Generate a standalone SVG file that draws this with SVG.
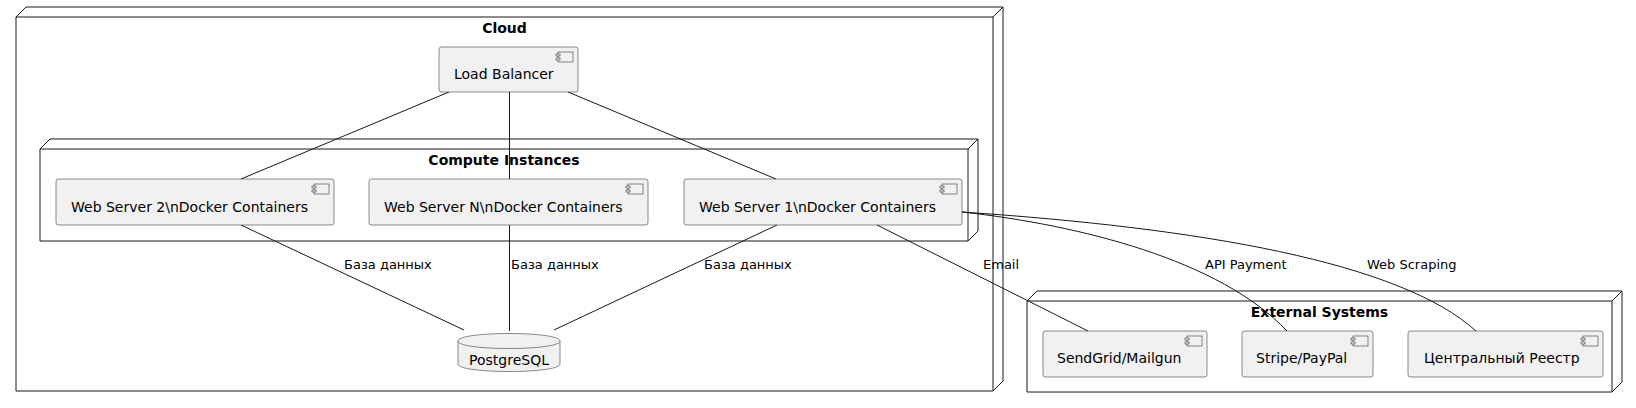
<svg xmlns="http://www.w3.org/2000/svg" width="1636" height="408" viewBox="0 0 1636 408">
<style>
.node{fill:none;stroke:#181818;stroke-width:1}
.title{font-family:"DejaVu Sans",sans-serif;font-size:14px;font-weight:bold;fill:#000;text-anchor:middle}
.comp{fill:#F1F1F1;stroke:#181818;stroke-width:0.5}
.icon{fill:#F1F1F1;stroke:#181818;stroke-width:0.5}
.lbl{font-family:"DejaVu Sans",sans-serif;font-size:14px;fill:#000}
.edge{fill:none;stroke:#181818;stroke-width:1}
.elbl{font-family:"DejaVu Sans",sans-serif;font-size:13px;fill:#000}
</style>
<rect width="1636" height="408" fill="#FFFFFF"/>
<g id="cloud">
<path class="node" d="M16,17 L26,7 L1003,7 L1003,381 L993,391 L16,391 Z M993,17 L1003,7 M16,17 L993,17 L993,391"/>
<text class="title" x="504.5" y="33">Cloud</text>
</g>
<g id="compute-instances">
<path class="node" d="M40,149 L50,139 L978,139 L978,231 L968,241 L40,241 Z M968,149 L978,139 M40,149 L968,149 L968,241"/>
<text class="title" x="504" y="165">Compute Instances</text>
</g>
<g id="external-systems">
<path class="node" d="M1027,301 L1037,291 L1622,291 L1622,382 L1612,392 L1027,392 Z M1612,301 L1622,291 M1027,301 L1612,301 L1612,392"/>
<text class="title" x="1319.5" y="317">External Systems</text>
</g>
<g id="connectors">
<line class="edge" x1="449" y1="92" x2="241" y2="179"/>
<line class="edge" x1="509.5" y1="92" x2="509.5" y2="179"/>
<line class="edge" x1="568" y1="92" x2="776" y2="179"/>
<line class="edge" x1="241" y1="225" x2="464" y2="330"/>
<line class="edge" x1="509.5" y1="225" x2="509.5" y2="331"/>
<line class="edge" x1="777" y1="225" x2="554" y2="330"/>
<line class="edge" x1="877" y1="225" x2="1088" y2="331"/>
<path class="edge" d="M962,212 C1080,225 1220,260 1287,331"/>
<path class="edge" d="M962,212 C1200,228 1400,262 1476,331"/>
<text class="elbl" x="344" y="269">База данных</text>
<text class="elbl" x="511" y="269">База данных</text>
<text class="elbl" x="704" y="269">База данных</text>
<text class="elbl" x="983" y="269">Email</text>
<text class="elbl" x="1205" y="269">API Payment</text>
<text class="elbl" x="1367" y="269">Web Scraping</text>
</g>
<g id="load-balancer">
<rect class="comp" x="439" y="47" width="139" height="45" rx="2.5"/>
<rect class="icon" x="558" y="52" width="15" height="10"/>
<rect class="icon" x="556" y="54" width="4" height="2"/>
<rect class="icon" x="556" y="58" width="4" height="2"/>
<text class="lbl" x="454" y="79">Load Balancer</text>
</g>
<g id="web-server-2">
<rect class="comp" x="56" y="179" width="278" height="46" rx="2.5"/>
<rect class="icon" x="314" y="184" width="15" height="10"/>
<rect class="icon" x="312" y="186" width="4" height="2"/>
<rect class="icon" x="312" y="190" width="4" height="2"/>
<text class="lbl" x="71" y="212">Web Server 2\nDocker Containers</text>
</g>
<g id="web-server-n">
<rect class="comp" x="369" y="179" width="279" height="46" rx="2.5"/>
<rect class="icon" x="628" y="184" width="15" height="10"/>
<rect class="icon" x="626" y="186" width="4" height="2"/>
<rect class="icon" x="626" y="190" width="4" height="2"/>
<text class="lbl" x="384" y="212">Web Server N\nDocker Containers</text>
</g>
<g id="web-server-1">
<rect class="comp" x="684" y="179" width="278" height="46" rx="2.5"/>
<rect class="icon" x="942" y="184" width="15" height="10"/>
<rect class="icon" x="940" y="186" width="4" height="2"/>
<rect class="icon" x="940" y="190" width="4" height="2"/>
<text class="lbl" x="699" y="212">Web Server 1\nDocker Containers</text>
</g>
<g id="postgresql">
<path class="comp" d="M458,341 C458,331 560,331 560,341 L560,364 C560,374 458,374 458,364 Z"/>
<path class="comp" fill="none" d="M458,341 C458,351 560,351 560,341"/>
<text class="lbl" x="509" y="365" text-anchor="middle">PostgreSQL</text>
</g>
<g id="sendgrid">
<rect class="comp" x="1043" y="331" width="164" height="46" rx="2.5"/>
<rect class="icon" x="1187" y="336" width="15" height="10"/>
<rect class="icon" x="1185" y="338" width="4" height="2"/>
<rect class="icon" x="1185" y="342" width="4" height="2"/>
<text class="lbl" x="1057" y="363">SendGrid/Mailgun</text>
</g>
<g id="stripe">
<rect class="comp" x="1242" y="331" width="131" height="46" rx="2.5"/>
<rect class="icon" x="1353" y="336" width="15" height="10"/>
<rect class="icon" x="1351" y="338" width="4" height="2"/>
<rect class="icon" x="1351" y="342" width="4" height="2"/>
<text class="lbl" x="1256" y="363">Stripe/PayPal</text>
</g>
<g id="central-registry">
<rect class="comp" x="1408" y="331" width="195" height="46" rx="2.5"/>
<rect class="icon" x="1583" y="336" width="15" height="10"/>
<rect class="icon" x="1581" y="338" width="4" height="2"/>
<rect class="icon" x="1581" y="342" width="4" height="2"/>
<text class="lbl" x="1424" y="363">Центральный Реестр</text>
</g>
</svg>
